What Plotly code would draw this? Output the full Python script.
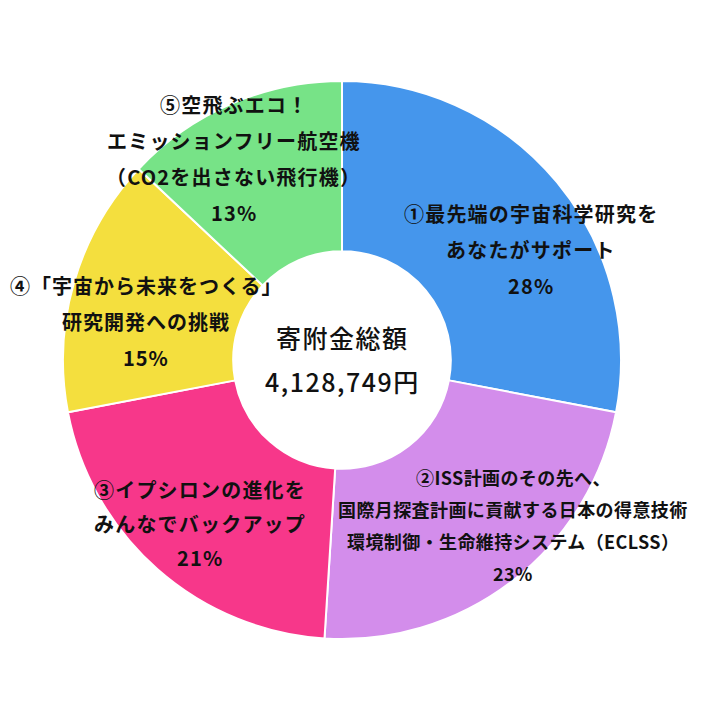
import math
import plotly.graph_objects as go

# 寄附金の使い道ごとの割合 (%)
labels = [
    ["①最先端の宇宙科学研究を", "あなたがサポート"],
    ["②ISS計画のその先へ、", "国際月探査計画に貢献する日本の得意技術", "環境制御・生命維持システム（ECLSS）"],
    ["③イプシロンの進化を", "みんなでバックアップ"],
    ["④「宇宙から未来をつくる」", "研究開発への挑戦"],
    ["⑤空飛ぶエコ！", "エミッションフリー航空機", "（CO2を出さない飛行機）"],
]
shares = [28, 23, 21, 15, 13]
colors = ["#4596EC", "#D38DEB", "#F7378A", "#F4DF3E", "#77E387"]
center_lines = ["寄附金総額", "4,128,749円"]

W, H = 710, 712
off = 8  # the page body adds an 8px margin
cx, cy, R = 342 - off, 360 - off, 279
hole = 0.39

# small per-label nudges (px) so text sits like the original
nudge = [(21, 28), (38, -7), (2, 0), (13, 22), (-22, -2)]
label_size = [20, 18, 20, 20, 20]
label_gap = [36, 32, 34, 36, 36]
label_spacing = [1.2, 0.4, 1.2, 1.0, 1.2]

fig = go.Figure(go.Pie(
    values=shares,
    labels=[l[0] for l in labels],
    marker=dict(colors=colors, line=dict(color="white", width=2)),
    hole=hole,
    sort=False,
    direction="clockwise",
    rotation=0,
    textinfo="none",
    hoverinfo="label+percent",
    showlegend=False,
    domain=dict(x=[(cx - R) / W, (cx + R) / W], y=[1 - (cy + R) / H, 1 - (cy - R) / H]),
))


def to_paper(px, py):
    return px / W, 1 - py / H


annotations = []
total = sum(shares)
cum = 0
for i, v in enumerate(shares):
    mid = (cum + v / 2) / total * 2 * math.pi
    cum += v
    r = 0.78 * R
    lx = cx + r * math.sin(mid) + nudge[i][0]
    ly = cy - r * math.cos(mid) + nudge[i][1]
    lines = labels[i] + ["%d%%" % round(v / total * 100)]
    n = len(lines)
    for k, line in enumerate(lines):
        px, py = to_paper(lx, ly + (k - (n - 1) / 2) * label_gap[i])
        annotations.append(dict(
            x=px, y=py, xref="paper", yref="paper", showarrow=False,
            xanchor="center", yanchor="middle",
            text='<span style="letter-spacing:%spx">%s</span>' % (label_spacing[i], line),
            font=dict(family="Noto Sans CJK JP", size=label_size[i], color="#111111", weight="bold"),
        ))

for k, line in enumerate(center_lines):
    px, py = to_paper(cx, cy + (k - 0.5) * 44 - 1)
    annotations.append(dict(
        x=px, y=py, xref="paper", yref="paper", showarrow=False,
        xanchor="center", yanchor="middle",
        text='<span style="letter-spacing:1.5px">%s</span>' % line,
        font=dict(family="Noto Sans CJK JP", size=25, color="#111111", weight=500),
    ))

fig.update_layout(
    width=W, height=H,
    margin=dict(l=0, r=0, t=0, b=0),
    paper_bgcolor="white",
    plot_bgcolor="white",
    annotations=annotations,
)

fig.write_html("out.html")
